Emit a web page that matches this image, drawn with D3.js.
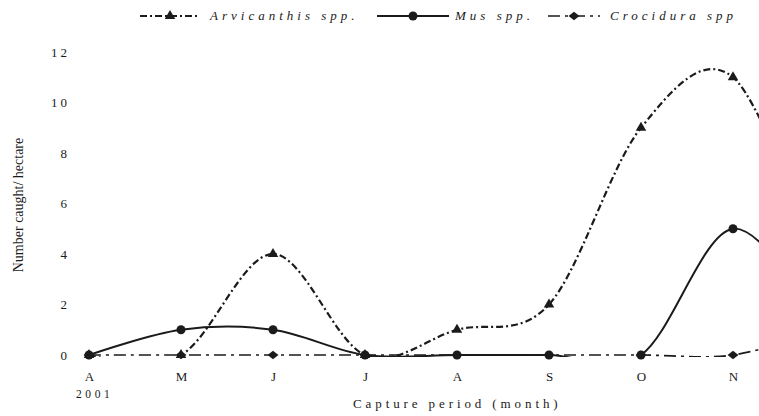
<!DOCTYPE html>
<html>
<head>
<meta charset="utf-8">
<script src="https://cdn.jsdelivr.net/npm/d3@7"></script>
<style>
  body { margin: 0; background: #fff; }
  svg { display: block; font-family: "Liberation Serif", "DejaVu Serif", serif; }
</style>
</head>
<body>
<svg></svg>
<script>
// Data (Apr-Dec 2001, the last month lies beyond the right edge of the picture)
const months = ["A", "M", "J", "J", "A", "S", "O", "N", "D"];
const arvicanthis = [0, 0, 4, 0, 1, 2, 9, 11, 3];
const mus = [0, 1, 1, 0, 0, 0, 0, 5, 1];
const crocidura = [0, 0, 0, 0, 0, 0, 0, 0, 1];
const yTicks = [0, 2, 4, 6, 8, 10, 12];
const shownMonths = 8; // only A..N visible

const width = 759;
const height = 416;
const ink = "#1b1b1b";

const svg = d3.select("svg").attr("width", width).attr("height", height);

const x = d3.scaleLinear().domain([0, 8]).range([89, 825]);
const y = d3.scaleLinear().domain([0, 12]).range([355, 52]);

// clip like the plot area: everything under zero is hidden
svg.append("clipPath").attr("id", "plot")
  .append("rect").attr("x", 0).attr("y", 0).attr("width", width).attr("height", y(0) + 2);

// Axes (labels only, no lines)
const yAxis = svg.append("g")
  .attr("transform", "translate(70,0)")
  .call(d3.axisLeft(y).tickValues(yTicks).tickSize(0).tickPadding(0));
yAxis.select(".domain").remove();
yAxis.selectAll("text")
  .attr("font-family", "Liberation Serif")
  .attr("font-size", 13)
  .attr("letter-spacing", "3px")
  .attr("fill", ink);

const xAxis = svg.append("g")
  .attr("transform", `translate(0,${y(0)})`)
  .call(d3.axisBottom(x).tickValues(d3.range(shownMonths)).tickFormat((i) => months[i]).tickSize(0).tickPadding(17));
xAxis.select(".domain").remove();
xAxis.selectAll("text")
  .attr("font-family", "Liberation Serif")
  .attr("font-size", 13)
  .attr("fill", ink);

svg.append("text")
  .attr("x", 76).attr("y", 398)
  .attr("font-size", 11.5).attr("letter-spacing", "3.6px")
  .attr("fill", ink)
  .text("2001");

svg.append("text")
  .attr("x", 353).attr("y", 408)
  .attr("font-size", 13).attr("letter-spacing", "3.9px")
  .attr("fill", ink)
  .text("Capture period (month)");

svg.append("text")
  .attr("transform", "translate(23,205) rotate(-90)")
  .attr("text-anchor", "middle")
  .attr("font-size", 14)
  .attr("fill", ink)
  .text("Number caught/ hectare");

// Series
const series = [
  { name: "Arvicanthis spp.", values: arvicanthis, dash: "7,3,2,3", width: 2.2, marker: "triangle" },
  { name: "Mus spp.", values: mus, dash: null, width: 2, marker: "circle" },
  { name: "Crocidura spp", values: crocidura, dash: "12,5,3,5", width: 1.7, marker: "diamond" }
];

const line = d3.line()
  .x((d, i) => x(i))
  .y((d) => y(d))
  .curve(d3.curveCardinal.tension(0));

function drawMarker(g, type) {
  if (type === "triangle") {
    g.append("path").attr("d", d3.symbol(d3.symbolTriangle, 48)()).attr("fill", ink);
  } else if (type === "circle") {
    g.append("circle").attr("r", 4.5).attr("fill", ink);
  } else {
    g.append("path").attr("d", d3.symbol(d3.symbolSquare, 38)())
      .attr("transform", "scale(1.25,1) rotate(45)").attr("fill", ink);
  }
}

const plot = svg.append("g").attr("clip-path", "url(#plot)");

series.forEach((s) => {
  plot.append("path")
    .datum(s.values)
    .attr("d", line)
    .attr("fill", "none")
    .attr("stroke", ink)
    .attr("stroke-width", s.width)
    .attr("stroke-dasharray", s.dash);
});

series.forEach((s) => {
  svg.append("g")
    .selectAll("g")
    .data(s.values.slice(0, shownMonths))
    .enter()
    .append("g")
    .attr("transform", (d, i) => `translate(${x(i)},${y(d)})`)
    .each(function () { drawMarker(d3.select(this), s.marker); });
});

// Legend
const legendItems = [
  { s: series[0], x1: 140, x2: 200, tx: 210 },
  { s: series[1], x1: 377, x2: 449, tx: 455 },
  { s: series[2], x1: 548, x2: 600, tx: 610 }
];

const legend = svg.append("g").attr("transform", "translate(0,16)");
legendItems.forEach((it) => {
  legend.append("line")
    .attr("x1", it.x1).attr("x2", it.x2)
    .attr("stroke", ink)
    .attr("stroke-width", it.s.width)
    .attr("stroke-dasharray", it.s.dash);
  const m = legend.append("g").attr("transform", `translate(${(it.x1 + it.x2) / 2},0)`);
  drawMarker(m, it.s.marker);
  legend.append("text")
    .attr("x", it.tx).attr("y", 4)
    .attr("font-size", 13)
    .attr("font-style", "italic")
    .attr("letter-spacing", "4px")
    .attr("fill", ink)
    .text(it.s.name);
});
</script>
</body>
</html>
